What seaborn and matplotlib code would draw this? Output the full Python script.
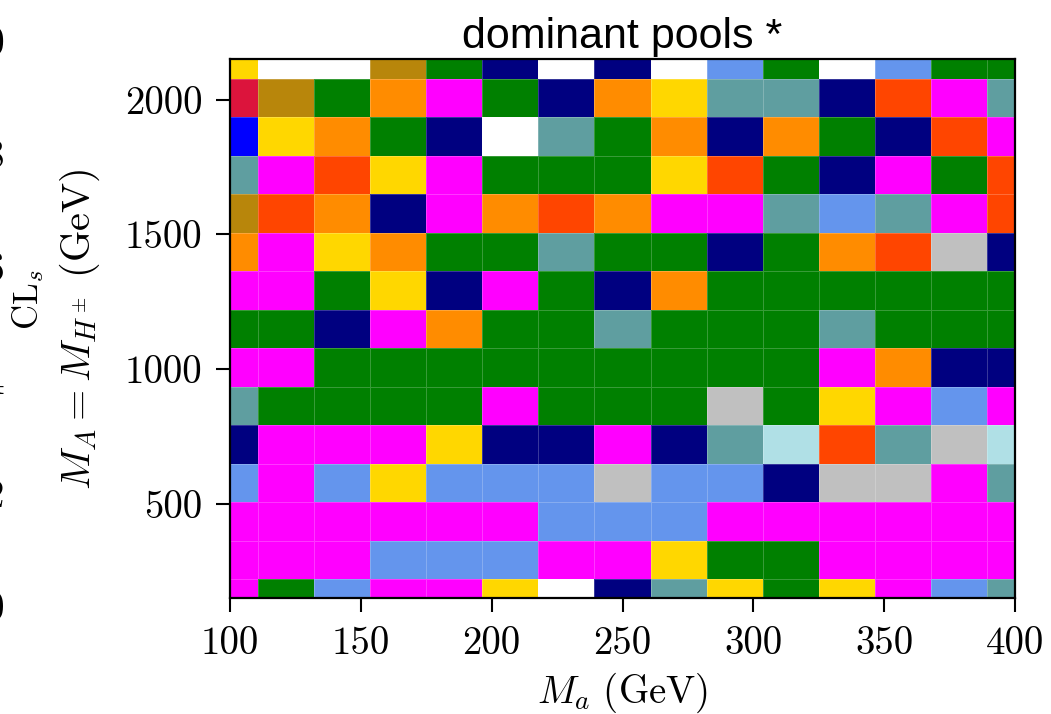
import numpy as np
import pandas as pd
import seaborn as sns
import matplotlib
matplotlib.use("Agg")
import matplotlib.pyplot as plt
from matplotlib.colors import ListedColormap

# ---- data -------------------------------------------------------------
# grid of masses (GeV)
m_a = np.linspace(100, 400, 15)          # x: M_a
m_A = np.linspace(2150, 150, 15)         # y: M_A = M_H+-, top row first

# pool codes -> colours
pool_codes = ["Y", "W", "B", "G", "N", "C", "R", "O", "M", "U", "T", "E", "S", "P"]
pool_colors = ["gold", "white", "darkgoldenrod", "green", "navy", "cornflowerblue",
               "crimson", "darkorange", "magenta", "blue", "cadetblue", "orangered",
               "silver", "powderblue"]

# dominant pool per cell, rows from top (M_A=2150) to bottom (M_A=150)
dominant_rows = [
    "YWWBGNWNWCGWCGG",
    "RBGOMGNOYTTNEMT",
    "UYOGNWTGONOGNEM",
    "TMEYMGGGYEGNMGE",
    "BEONMOEOMMTCTME",
    "OMYOGGTGGNGOESN",
    "MMGYNMGNOGGGGGG",
    "GGNMOGGTGGGTGGG",
    "MMGGGGGGGGGMONN",
    "TGGGGMGGGSGYMCM",
    "NMMMYNNMNTPETSP",
    "CMCYCCCSCCNSSMT",
    "MMMMMMCCCMMMMMM",
    "MMMCCCMMYGGMMMM",
    "MGCMMYWNTYGYMCT",
]

x_ticks = [100, 150, 200, 250, 300, 350, 400]
y_ticks = [500, 1000, 1500, 2000]
cls_ticks = ["1.0", "0.8", "0.6", "0.4", "0.2", "0.0"]

# ---- build table ------------------------------------------------------
code_index = {c: i for i, c in enumerate(pool_codes)}
grid = np.array([[code_index[c] for c in row] for row in dominant_rows])
df = pd.DataFrame(grid, index=np.round(m_A, 1), columns=np.round(m_a, 1))

plt.rcParams["mathtext.fontset"] = "cm"
plt.rcParams["axes.formatter.use_mathtext"] = True

W, H = 1051, 714
fig = plt.figure(figsize=(W / 100, H / 100), dpi=100)
ax = fig.add_axes([230 / W, 1 - 598.3 / H, (1015 - 230) / W, (598.3 - 59.3) / H])

cmap = ListedColormap(pool_colors)
sns.heatmap(df, ax=ax, cmap=cmap, vmin=-0.5, vmax=len(pool_codes) - 0.5,
            cbar=False, xticklabels=False, yticklabels=False,
            linewidths=0.5, linecolor=(1, 1, 1, 0.22))

dx = (m_a[-1] - m_a[0]) / (len(m_a) - 1)
dy = (m_A[0] - m_A[-1]) / (len(m_A) - 1)
ax.set_xlim(0.5, len(m_a) - 0.5)
ax.set_ylim(len(m_A) - 0.5, 0.5)

TICK_FS = 28
ax.set_xticks([(t - m_a[0]) / dx + 0.5 for t in x_ticks])
ax.set_xticklabels([str(t) for t in x_ticks], fontfamily="cmr10", fontsize=TICK_FS)
ax.set_yticks([(m_A[0] - t) / dy + 0.5 for t in y_ticks])
ax.set_yticklabels([str(t) for t in y_ticks], fontfamily="cmr10", fontsize=TICK_FS)
ax.tick_params(direction="out", length=10, width=1.5, pad=10, colors="black")

for s in ax.spines.values():
    s.set_visible(True)
    s.set_linewidth(1.6)
    s.set_color("black")

ax.set_xlabel(r"$M_a\ (\mathrm{GeV})$", fontsize=28)
ax.set_ylabel(r"$M_A = M_{H^\pm}\ (\mathrm{GeV})$", fontsize=29)
ax.xaxis.set_label_coords(0.5, -(671 - 598.3) / 539)
ax.yaxis.set_label_coords(-(230 - 102) / 785, 0.5)
ax.set_title("dominant pools *", fontfamily="Liberation Sans", fontsize=31, pad=8)

# remnants of a neighbouring panel's colour bar at the left edge
for k, lab in enumerate(cls_ticks):
    yy = 44.8 + k * 113
    fig.text(5 / W, 1 - yy / H, lab, ha="right", va="center",
             fontfamily="cmr10", fontsize=TICK_FS)
fig.text(28 / W, 1 - 300 / H, r"$\mathrm{CL}_s$", rotation=90, ha="center",
         va="center", fontsize=25)

fig.savefig("out.png", dpi=100)
